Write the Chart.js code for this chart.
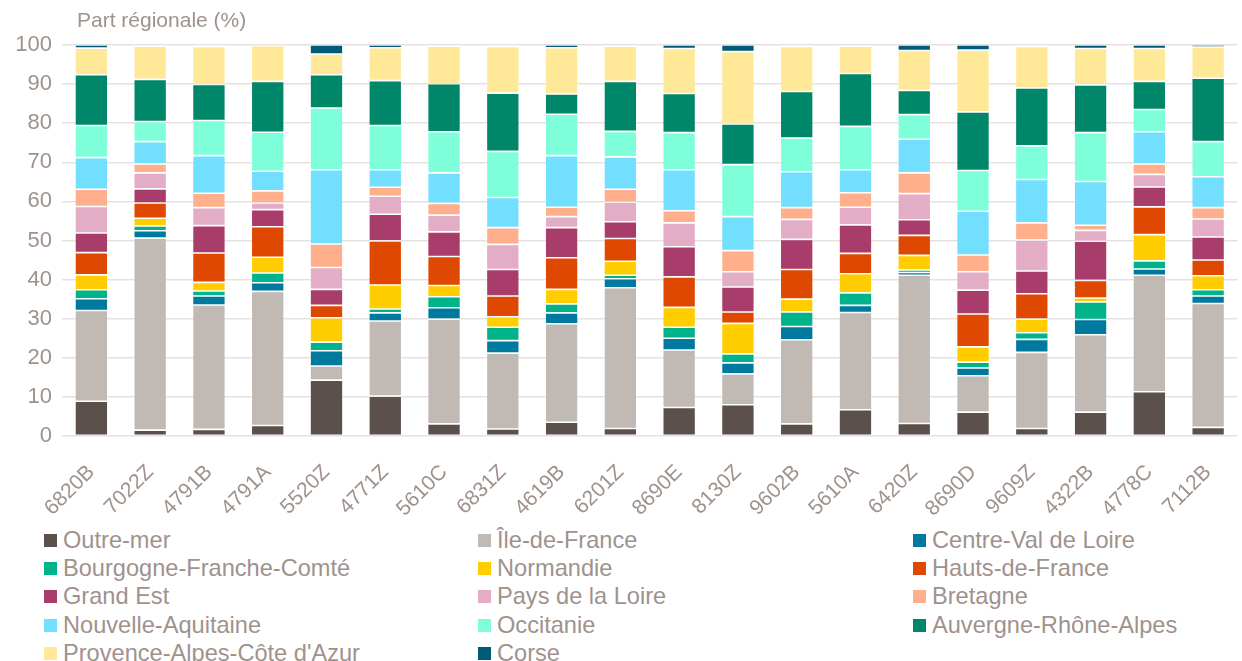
<!DOCTYPE html>
<html lang="fr">
<head>
<meta charset="utf-8">
<script src="https://cdn.jsdelivr.net/npm/chart.js@4.4.1/dist/chart.umd.min.js"></script>
<style>
    body { margin: 0; background: #fff; }
    #wrap { position: relative; width: 1242px; height: 661px; overflow: hidden; font-family: "Liberation Sans", Arial, sans-serif; color: #9f928d; }
    #chartBox { position: absolute; left: 0; top: 0; width: 1242px; height: 520px; }
    #yTitle { position: absolute; left: 77px; top: 8px; font-size: 21px; line-height: 24px; }
    #legend { position: absolute; left: 44px; top: 526px; display: grid; grid-template-columns: 434px 435px 320px; grid-auto-rows: 28.3px; font-size: 23.6px; }
    .item { display: flex; align-items: center; white-space: nowrap; }
    .swatch { width: 13px; height: 13px; margin-right: 6px; flex: none; }
</style>
</head>
<body>
<div id="wrap">
    <div id="chartBox"><canvas id="regionChart"></canvas></div>
    <div id="yTitle">Part régionale (%)</div>
    <div id="legend"></div>
</div>
<script>
const categories = ['6820B', '7022Z', '4791B', '4791A', '5520Z', '4771Z', '5610C', '6831Z', '4619B', '6201Z',
    '8690E', '8130Z', '9602B', '5610A', '6420Z', '8690D', '9609Z', '4322B', '4778C', '7112B'];

const outreMer     = [8.9, 1.5, 1.7, 2.7, 14.3, 10.2, 3.1, 1.8, 3.5, 1.9, 7.3, 8.0, 3.1, 6.7, 3.2, 6.1, 1.9, 6.1, 11.3, 2.2];
const ileDeFrance  = [23.2, 49.1, 31.8, 34.3, 3.6, 19.2, 26.8, 19.4, 25.2, 36.0, 14.7, 7.9, 21.5, 24.9, 37.9, 9.3, 19.5, 19.8, 29.8, 31.7];
const centreVdl    = [3.0, 1.9, 2.3, 2.2, 3.9, 2.1, 2.9, 3.2, 2.8, 2.3, 3.0, 2.8, 3.4, 1.8, 0.7, 2.0, 3.3, 3.9, 1.6, 1.9];
const bourgogneFC  = [2.3, 1.2, 1.3, 2.5, 2.2, 1.0, 2.8, 3.4, 2.3, 0.9, 2.8, 2.3, 3.7, 3.2, 0.7, 1.5, 1.7, 4.5, 2.1, 1.6];
const normandie    = [3.8, 2.0, 2.2, 4.0, 6.2, 6.1, 2.9, 2.7, 3.7, 3.6, 5.1, 7.8, 3.3, 4.9, 3.7, 3.9, 3.5, 1.0, 6.7, 3.6];
const hautsDeFr    = [5.7, 3.9, 7.5, 7.8, 3.2, 11.3, 7.4, 5.3, 8.1, 5.8, 7.8, 2.9, 7.6, 5.2, 5.1, 8.4, 6.5, 4.5, 7.1, 4.0];
const grandEst     = [5.0, 3.6, 7.0, 4.4, 4.1, 6.8, 6.3, 6.8, 7.7, 4.3, 7.7, 6.4, 7.7, 7.3, 4.0, 6.1, 5.8, 10.0, 5.1, 5.9];
const paysDeLoire  = [6.8, 4.1, 4.6, 1.7, 5.6, 4.6, 4.3, 6.4, 2.8, 5.0, 6.1, 3.9, 5.1, 4.5, 6.7, 4.7, 7.9, 2.8, 3.2, 4.6];
const bretagne     = [4.4, 2.3, 3.7, 3.1, 6.0, 2.3, 3.0, 4.3, 2.4, 3.3, 3.1, 5.4, 3.0, 3.7, 5.3, 4.3, 4.4, 1.3, 2.7, 2.9];
const nouvelleAq   = [8.1, 5.7, 9.6, 5.0, 19.0, 4.5, 7.8, 7.7, 13.2, 8.3, 10.5, 8.7, 9.2, 5.9, 8.6, 11.2, 11.1, 11.2, 8.2, 7.9];
const occitanie    = [8.2, 5.1, 9.0, 10.0, 15.8, 11.3, 10.5, 11.8, 10.6, 6.5, 9.5, 13.3, 8.6, 11.1, 6.3, 10.4, 8.6, 12.5, 5.7, 9.0];
const auvergneRA   = [13.0, 10.8, 9.2, 13.0, 8.5, 11.5, 12.3, 14.9, 5.2, 12.8, 10.0, 10.4, 11.9, 13.5, 6.2, 15.0, 14.8, 12.2, 7.2, 16.2];
const paca         = [6.8, 8.5, 9.7, 9.1, 5.3, 8.4, 9.6, 11.9, 11.8, 9.0, 11.5, 18.5, 11.5, 7.0, 10.2, 15.8, 10.6, 9.3, 8.4, 8.0];
const corse        = [0.8, 0.3, 0.4, 0.2, 2.3, 0.7, 0.3, 0.4, 0.7, 0.3, 0.9, 1.7, 0.4, 0.3, 1.4, 1.3, 0.4, 0.9, 0.9, 0.5];

const seriesNames = ['Outre-mer', 'Île-de-France', 'Centre-Val de Loire', 'Bourgogne-Franche-Comté', 'Normandie',
    'Hauts-de-France', 'Grand Est', 'Pays de la Loire', 'Bretagne', 'Nouvelle-Aquitaine', 'Occitanie',
    'Auvergne-Rhône-Alpes', "Provence-Alpes-Côte d'Azur", 'Corse'];
const seriesValues = [outreMer, ileDeFrance, centreVdl, bourgogneFC, normandie, hautsDeFr, grandEst,
    paysDeLoire, bretagne, nouvelleAq, occitanie, auvergneRA, paca, corse];
const seriesColors = ['#5c504c', '#c1b9b4', '#00799f', '#00b38a', '#ffcd00', '#de4800', '#a83c6a',
    '#e2adc5', '#ffaf8b', '#72dfff', '#7effda', '#008668', '#ffe999', '#005b78'];
const yTicks = [0, 10, 20, 30, 40, 50, 60, 70, 80, 90, 100];

const textColor = '#9f928d';

const datasets = seriesNames.map((name, i) => ({
    label: name,
    data: seriesValues[i],
    backgroundColor: seriesColors[i],
    borderColor: 'rgba(255,255,255,0.3)',
    borderWidth: 0.8,
    borderSkipped: false,
    categoryPercentage: 1,
    barPercentage: 0.56
}));

new Chart(document.getElementById('regionChart'), {
    type: 'bar',
    data: { labels: categories, datasets: datasets },
    options: {
        responsive: true,
        maintainAspectRatio: false,
        animation: false,
        layout: { padding: { top: 45, right: 2, left: 0, bottom: 0 } },
        plugins: {
            legend: { display: false },
            tooltip: { enabled: false }
        },
        scales: {
            x: {
                stacked: true,
                grid: { display: false },
                border: { display: false },
                afterFit: scale => { scale.height = 84; },
                ticks: {
                    color: textColor,
                    font: { family: 'Liberation Sans', size: 21 },
                    minRotation: 45,
                    maxRotation: 45,
                    padding: 16
                }
            },
            y: {
                stacked: true,
                min: 0,
                max: 100,
                afterFit: scale => { scale.width = 62; },
                afterBuildTicks: scale => { scale.ticks = yTicks.map(v => ({ value: v })); },
                grid: { color: '#e6e1e1', lineWidth: 1.6, drawTicks: false },
                border: { display: false },
                ticks: {
                    color: textColor,
                    font: { family: 'Liberation Sans', size: 22 },
                    padding: 10
                }
            }
        }
    }
});

const legendBox = document.getElementById('legend');
seriesNames.forEach((name, i) => {
    const item = document.createElement('div');
    item.className = 'item';
    item.innerHTML = `<span class="swatch" style="background:${seriesColors[i]}"></span><span>${name}</span>`;
    legendBox.appendChild(item);
});
</script>
</body>
</html>
